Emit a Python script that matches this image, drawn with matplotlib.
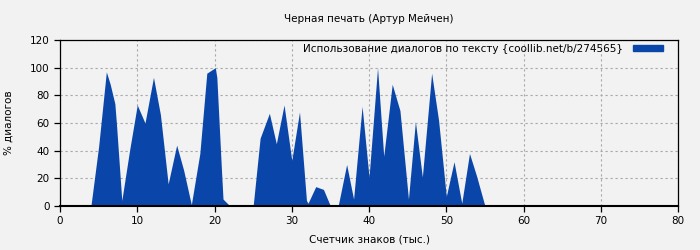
import matplotlib
matplotlib.use('Agg')
import matplotlib.pyplot as plt
from matplotlib.patches import Patch

# Счетчик знаков (тыс.) и % диалогов
chars = [0, 4.0, 5.0, 6.0, 6.5, 7.1, 7.3, 8.0, 9.0, 10.0, 11.0, 12.1, 13.0, 14.0, 15.1, 16.0, 17.0,
         18.1, 19.0, 20.1, 20.3, 20.9, 21.1, 22.0, 25.0, 25.9, 27.1, 28.0, 29.0, 30.0, 31.0,
         31.9, 32.1, 33.1, 34.1, 35.0, 36.0, 37.1, 38.0, 39.1, 40.0, 41.1, 41.9, 43.0, 44.0,
         45.1, 46.0, 46.9, 48.1, 49.0, 50.0, 51.0, 52.0, 53.0, 53.9, 55.0, 80]
dialogs = [0, 0, 43, 97, 88, 74, 60, 4, 40, 73, 60, 93, 66, 16, 44, 26, 1,
           38, 96, 100, 93, 26, 5, 0, 0, 49, 67, 45, 73, 33, 68,
           4, 2, 14, 12, 0, 0, 30, 5, 72, 21, 100, 36, 88, 69,
           5, 61, 21, 96, 62, 7, 32, 2, 38, 22, 0, 0]

title = 'Черная печать (Артур Мейчен)'
legend_label = 'Использование диалогов по тексту {coollib.net/b/274565}'
bg = '#f2f2f2'
blue = '#0a46aa'

plt.rcParams['font.family'] = 'DejaVu Sans'
plt.rcParams['font.size'] = 7.5

fig = plt.figure(figsize=(7, 2.5), dpi=100, facecolor=bg)
ax = fig.add_axes([0.0857, 0.176, 0.883, 0.664], facecolor=bg)

ax.fill_between(chars, dialogs, 0, color=blue, lw=0)

ax.set_xlim(0, 80)
ax.set_ylim(0, 120)
ax.set_xticks(range(0, 81, 10))
ax.set_yticks(range(0, 121, 20))
ax.grid(True, color='#a8a8a8', linestyle=(0, (2, 2.5)), linewidth=0.8)
ax.set_axisbelow(True)
for s in ax.spines.values():
    s.set_color('black')
    s.set_linewidth(0.9)
ax.spines['bottom'].set_linewidth(1.5)
ax.tick_params(length=4, width=0.9, colors='black', labelsize=7.5)

ax.set_title(title, fontsize=7.5, pad=13)
ax.set_xlabel('Счетчик знаков (тыс.)', fontsize=7.5, labelpad=6)
ax.set_ylabel('% диалогов', fontsize=7.5, labelpad=12)

leg = ax.legend([Patch(color=blue)], [legend_label], loc='upper right',
                fontsize=7.5, frameon=False, markerfirst=False,
                bbox_to_anchor=(0.982, 1.0), borderaxespad=0,
                handlelength=2.9, handleheight=0.55, handletextpad=1.0, borderpad=0.35)

fig.savefig('out.png', dpi=100, facecolor=bg)
